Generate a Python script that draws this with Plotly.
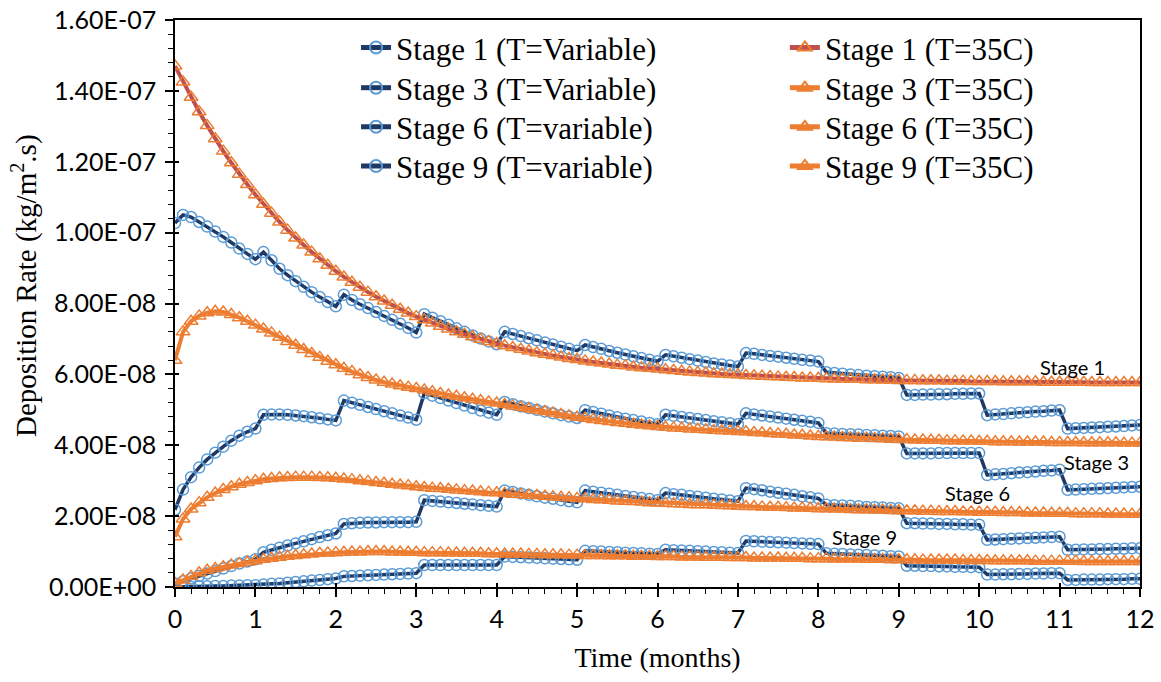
import plotly.graph_objects as go

# time in months (sample every 0.1 month)
T = [0.0, 0.1, 0.2, 0.3, 0.4, 0.5, 0.6, 0.7, 0.8, 0.9, 1.0,
     1.1, 1.2, 1.3, 1.4, 1.5, 1.6, 1.7, 1.8, 1.9, 2.0,
     2.1, 2.2, 2.3, 2.4, 2.5, 2.6, 2.7, 2.8, 2.9, 3.0,
     3.1, 3.2, 3.3, 3.4, 3.5, 3.6, 3.7, 3.8, 3.9, 4.0,
     4.1, 4.2, 4.3, 4.4, 4.5, 4.6, 4.7, 4.8, 4.9, 5.0,
     5.1, 5.2, 5.3, 5.4, 5.5, 5.6, 5.7, 5.8, 5.9, 6.0,
     6.1, 6.2, 6.3, 6.4, 6.5, 6.6, 6.7, 6.8, 6.9, 7.0,
     7.1, 7.2, 7.3, 7.4, 7.5, 7.6, 7.7, 7.8, 7.9, 8.0,
     8.1, 8.2, 8.3, 8.4, 8.5, 8.6, 8.7, 8.8, 8.9, 9.0,
     9.1, 9.2, 9.3, 9.4, 9.5, 9.6, 9.7, 9.8, 9.9, 10.0,
     10.1, 10.2, 10.3, 10.4, 10.5, 10.6, 10.7, 10.8, 10.9, 11.0,
     11.1, 11.2, 11.3, 11.4, 11.5, 11.6, 11.7, 11.8, 11.9, 12.0]

# deposition rates in units of 1e-8 kg/m2.s
stage1_var = [10.27,
    10.50, 10.44, 10.30, 10.17, 10.03, 9.88, 9.72, 9.55, 9.40, 9.25,
    9.45, 9.22, 8.98, 8.80, 8.63, 8.47, 8.32, 8.18, 8.04, 7.92,
    8.25, 8.10, 7.98, 7.87, 7.76, 7.65, 7.54, 7.43, 7.31, 7.18,
    7.70, 7.60, 7.50, 7.40, 7.30, 7.20, 7.10, 7.01, 6.93, 6.85,
    7.20, 7.14, 7.08, 7.02, 6.96, 6.90, 6.84, 6.78, 6.72, 6.67,
    6.83, 6.77, 6.72, 6.66, 6.61, 6.56, 6.51, 6.46, 6.41, 6.37,
    6.55, 6.51, 6.47, 6.43, 6.39, 6.35, 6.31, 6.28, 6.25, 6.22,
    6.60, 6.58, 6.55, 6.52, 6.50, 6.47, 6.44, 6.41, 6.39, 6.36,
    6.06, 6.04, 6.02, 6.00, 5.98, 5.96, 5.95, 5.93, 5.92, 5.90,
    5.42, 5.42, 5.43, 5.43, 5.44, 5.44, 5.45, 5.45, 5.46, 5.46,
    4.85, 4.87, 4.88, 4.90, 4.92, 4.93, 4.95, 4.96, 4.98, 4.99,
    4.47, 4.48, 4.49, 4.50, 4.51, 4.52, 4.53, 4.54, 4.56, 4.57]

stage3_var = [2.18,
    2.75, 3.10, 3.37, 3.60, 3.79, 3.96, 4.13, 4.27, 4.38, 4.47,
    4.86, 4.87, 4.87, 4.86, 4.84, 4.82, 4.79, 4.76, 4.73, 4.70,
    5.26, 5.20, 5.14, 5.08, 5.02, 4.96, 4.90, 4.84, 4.78, 4.72,
    5.47, 5.40, 5.33, 5.26, 5.19, 5.12, 5.05, 4.98, 4.92, 4.86,
    5.22, 5.16, 5.10, 5.05, 5.00, 4.95, 4.90, 4.85, 4.81, 4.77,
    4.99, 4.94, 4.89, 4.84, 4.79, 4.75, 4.71, 4.67, 4.63, 4.59,
    4.86, 4.83, 4.80, 4.77, 4.74, 4.71, 4.68, 4.65, 4.62, 4.59,
    4.90, 4.87, 4.84, 4.81, 4.78, 4.75, 4.72, 4.69, 4.66, 4.63,
    4.34, 4.33, 4.32, 4.31, 4.30, 4.29, 4.28, 4.27, 4.26, 4.25,
    3.77, 3.77, 3.77, 3.77, 3.78, 3.78, 3.78, 3.78, 3.78, 3.78,
    3.16, 3.18, 3.19, 3.21, 3.23, 3.24, 3.26, 3.28, 3.29, 3.31,
    2.74, 2.75, 2.76, 2.77, 2.78, 2.79, 2.80, 2.81, 2.82, 2.83]

stage6_var = [0.10,
    0.16, 0.24, 0.31, 0.38, 0.45, 0.52, 0.59, 0.66, 0.72, 0.78,
    0.98, 1.05, 1.11, 1.17, 1.23, 1.29, 1.35, 1.41, 1.46, 1.51,
    1.78, 1.80, 1.81, 1.82, 1.82, 1.83, 1.83, 1.83, 1.83, 1.84,
    2.45, 2.43, 2.41, 2.39, 2.37, 2.35, 2.33, 2.31, 2.29, 2.27,
    2.72, 2.68, 2.64, 2.60, 2.56, 2.52, 2.49, 2.45, 2.42, 2.39,
    2.72, 2.69, 2.66, 2.63, 2.60, 2.57, 2.54, 2.51, 2.48, 2.45,
    2.65, 2.62, 2.60, 2.57, 2.55, 2.52, 2.49, 2.47, 2.44, 2.42,
    2.79, 2.76, 2.73, 2.69, 2.66, 2.63, 2.60, 2.56, 2.53, 2.50,
    2.32, 2.31, 2.30, 2.29, 2.28, 2.26, 2.25, 2.24, 2.23, 2.22,
    1.80, 1.80, 1.79, 1.79, 1.78, 1.78, 1.77, 1.77, 1.76, 1.76,
    1.33, 1.34, 1.35, 1.36, 1.37, 1.38, 1.39, 1.40, 1.41, 1.42,
    1.05, 1.05, 1.06, 1.06, 1.07, 1.07, 1.08, 1.08, 1.09, 1.09]

stage9_var = [0.00,
    0.01, 0.01, 0.02, 0.02, 0.03, 0.03, 0.04, 0.04, 0.05, 0.05,
    0.07, 0.09, 0.10, 0.12, 0.14, 0.16, 0.18, 0.20, 0.22, 0.24,
    0.30, 0.31, 0.32, 0.33, 0.34, 0.35, 0.36, 0.37, 0.38, 0.39,
    0.62, 0.62, 0.62, 0.62, 0.62, 0.62, 0.62, 0.62, 0.62, 0.62,
    0.86, 0.85, 0.84, 0.83, 0.82, 0.81, 0.80, 0.79, 0.78, 0.77,
    1.02, 1.01, 1.00, 0.99, 0.98, 0.97, 0.96, 0.95, 0.94, 0.93,
    1.05, 1.04, 1.03, 1.02, 1.01, 1.00, 0.99, 0.98, 0.97, 0.96,
    1.30, 1.29, 1.28, 1.27, 1.26, 1.25, 1.24, 1.23, 1.22, 1.21,
    0.95, 0.94, 0.93, 0.92, 0.91, 0.90, 0.89, 0.88, 0.87, 0.86,
    0.60, 0.60, 0.59, 0.59, 0.58, 0.58, 0.57, 0.57, 0.56, 0.56,
    0.35, 0.35, 0.36, 0.36, 0.37, 0.37, 0.38, 0.38, 0.39, 0.39,
    0.20, 0.20, 0.21, 0.21, 0.21, 0.22, 0.22, 0.22, 0.23, 0.23]

stage1_35 = [14.70,
    14.25, 13.82, 13.41, 13.02, 12.65, 12.30, 11.97, 11.65, 11.36, 11.07,
    10.80, 10.55, 10.30, 10.07, 9.85, 9.65, 9.45, 9.26, 9.08, 8.91,
    8.75, 8.60, 8.46, 8.32, 8.19, 8.07, 7.95, 7.84, 7.73, 7.63,
    7.54, 7.45, 7.36, 7.28, 7.20, 7.13, 7.06, 6.99, 6.93, 6.87,
    6.81, 6.76, 6.71, 6.66, 6.61, 6.57, 6.53, 6.49, 6.45, 6.42,
    6.38, 6.35, 6.32, 6.29, 6.26, 6.24, 6.21, 6.19, 6.17, 6.15,
    6.13, 6.11, 6.09, 6.07, 6.05, 6.04, 6.02, 6.01, 6.00, 5.99,
    5.97, 5.96, 5.95, 5.94, 5.93, 5.92, 5.91, 5.90, 5.90, 5.89,
    5.88, 5.87, 5.87, 5.86, 5.86, 5.85, 5.85, 5.84, 5.84, 5.83,
    5.83, 5.83, 5.82, 5.82, 5.82, 5.81, 5.81, 5.81, 5.80, 5.80,
    5.80, 5.80, 5.79, 5.79, 5.79, 5.79, 5.79, 5.78, 5.78, 5.78,
    5.78, 5.78, 5.78, 5.77, 5.77, 5.77, 5.77, 5.77, 5.77, 5.77]

stage3_35 = [6.40,
    7.20, 7.50, 7.65, 7.74, 7.78, 7.76, 7.69, 7.60, 7.50, 7.39,
    7.28, 7.17, 7.05, 6.93, 6.82, 6.70, 6.59, 6.48, 6.37, 6.27,
    6.17, 6.08, 5.99, 5.91, 5.84, 5.78, 5.73, 5.68, 5.64, 5.60,
    5.56, 5.51, 5.46, 5.42, 5.38, 5.34, 5.30, 5.26, 5.22, 5.19,
    5.15, 5.11, 5.07, 5.03, 4.99, 4.95, 4.91, 4.87, 4.83, 4.79,
    4.76, 4.73, 4.70, 4.67, 4.64, 4.62, 4.59, 4.57, 4.55, 4.53,
    4.51, 4.49, 4.48, 4.46, 4.45, 4.44, 4.42, 4.41, 4.40, 4.39,
    4.38, 4.36, 4.35, 4.33, 4.32, 4.31, 4.29, 4.28, 4.26, 4.25,
    4.24, 4.23, 4.22, 4.21, 4.20, 4.20, 4.19, 4.18, 4.17, 4.16,
    4.16, 4.15, 4.15, 4.14, 4.14, 4.13, 4.13, 4.12, 4.12, 4.11,
    4.11, 4.10, 4.10, 4.10, 4.09, 4.09, 4.09, 4.09, 4.08, 4.08,
    4.08, 4.08, 4.07, 4.07, 4.07, 4.07, 4.07, 4.06, 4.06, 4.06]

stage6_35 = [1.42,
    1.92, 2.20, 2.38, 2.53, 2.65, 2.75, 2.83, 2.90, 2.95, 3.00,
    3.04, 3.06, 3.08, 3.09, 3.10, 3.10, 3.10, 3.09, 3.08, 3.07,
    3.05, 3.03, 3.00, 2.98, 2.95, 2.93, 2.90, 2.88, 2.86, 2.83,
    2.81, 2.79, 2.78, 2.76, 2.74, 2.72, 2.71, 2.69, 2.67, 2.66,
    2.64, 2.62, 2.61, 2.59, 2.58, 2.56, 2.55, 2.53, 2.52, 2.50,
    2.49, 2.47, 2.46, 2.45, 2.43, 2.42, 2.41, 2.40, 2.38, 2.37,
    2.36, 2.35, 2.34, 2.33, 2.32, 2.32, 2.31, 2.30, 2.29, 2.28,
    2.27, 2.27, 2.26, 2.25, 2.25, 2.24, 2.23, 2.23, 2.22, 2.21,
    2.21, 2.20, 2.20, 2.19, 2.18, 2.18, 2.17, 2.17, 2.16, 2.15,
    2.15, 2.15, 2.14, 2.14, 2.13, 2.13, 2.13, 2.12, 2.12, 2.11,
    2.11, 2.11, 2.10, 2.10, 2.10, 2.09, 2.09, 2.09, 2.08, 2.08,
    2.08, 2.07, 2.07, 2.07, 2.07, 2.06, 2.06, 2.06, 2.05, 2.05]

stage9_35 = [0.10,
    0.20, 0.30, 0.40, 0.47, 0.52, 0.57, 0.62, 0.66, 0.70, 0.74,
    0.78, 0.81, 0.84, 0.87, 0.89, 0.91, 0.93, 0.95, 0.96, 0.97,
    0.98, 0.99, 0.99, 1.00, 1.00, 1.00, 0.99, 0.99, 0.98, 0.98,
    0.97, 0.97, 0.97, 0.96, 0.96, 0.95, 0.95, 0.95, 0.94, 0.94,
    0.93, 0.93, 0.93, 0.92, 0.92, 0.91, 0.91, 0.91, 0.90, 0.90,
    0.89, 0.89, 0.89, 0.88, 0.88, 0.88, 0.87, 0.87, 0.87, 0.86,
    0.86, 0.86, 0.85, 0.85, 0.85, 0.84, 0.84, 0.84, 0.83, 0.83,
    0.83, 0.82, 0.82, 0.82, 0.82, 0.81, 0.81, 0.81, 0.80, 0.80,
    0.80, 0.79, 0.79, 0.79, 0.79, 0.78, 0.78, 0.78, 0.77, 0.77,
    0.77, 0.77, 0.76, 0.76, 0.76, 0.76, 0.76, 0.75, 0.75, 0.75,
    0.75, 0.74, 0.74, 0.74, 0.74, 0.74, 0.73, 0.73, 0.73, 0.73,
    0.73, 0.73, 0.72, 0.72, 0.72, 0.72, 0.72, 0.72, 0.72, 0.72]

UNIT = 1e-8

y_tick_vals = [0, 2e-8, 4e-8, 6e-8, 8e-8, 1.0e-7, 1.2e-7, 1.4e-7, 1.6e-7]
y_tick_text = ["0.00E+00", "2.00E-08", "4.00E-08", "6.00E-08", "8.00E-08",
               "1.00E-07", "1.20E-07", "1.40E-07", "1.60E-07"]

var_names = ["Stage 1 (T=Variable)", "Stage 3 (T=Variable)",
             "Stage 6 (T=variable)", "Stage 9 (T=variable)"]
c35_names = ["Stage 1 (T=35C)", "Stage 3 (T=35C)",
             "Stage 6 (T=35C)", "Stage 9 (T=35C)"]
var_series = [stage1_var, stage3_var, stage6_var, stage9_var]
c35_series = [stage1_35, stage3_35, stage6_35, stage9_35]
c35_line_colors = ["#C0504D", "#ED7D31", "#ED7D31", "#ED7D31"]

label_text = ["Stage 1", "Stage 3", "Stage 6", "Stage 9"]
label_x = [11.16, 11.46, 9.98, 8.58]
label_y = [6.2, 3.54, 2.66, 1.40]

NAVY = "#1F3864"
LIGHTBLUE = "#5B9BD5"
ORANGE = "#ED7D31"

# legend layout: one legend per entry (rows x 2 columns), paper coords
legend_row_y = [0.951, 0.880, 0.811, 0.742]
legend_col_x = [0.1876, 0.632]

fig = go.Figure()
for i, (vname, vs, cname, cs, lc) in enumerate(zip(
        var_names, var_series, c35_names, c35_series, c35_line_colors)):
    fig.add_trace(go.Scatter(
        x=T, y=[v * UNIT for v in vs], name=vname, mode="lines+markers",
        line=dict(color=NAVY, width=3.5),
        marker=dict(symbol="circle-open", size=11, color=LIGHTBLUE,
                    line=dict(width=1.5, color=LIGHTBLUE)),
        legend="legend" if i == 0 else f"legend{i + 1}"))
    fig.add_trace(go.Scatter(
        x=T, y=[v * UNIT for v in cs], name=cname, mode="lines+markers",
        line=dict(color=lc, width=4),
        marker=dict(symbol="triangle-up-open", size=12, color=ORANGE,
                    line=dict(width=1.5, color=ORANGE)),
        legend=f"legend{i + 5}"))

# helper trace so the overlay axes (inner half of the crossing ticks) render
fig.add_trace(go.Scatter(x=[None], y=[None], xaxis="x2", yaxis="y2",
                         showlegend=False, hoverinfo="skip"))

for txt, lx, ly in zip(label_text, label_x, label_y):
    fig.add_annotation(x=lx, y=ly * UNIT, text=txt, showarrow=False,
                       xanchor="center", yanchor="middle",
                       font=dict(family="Lato", size=20, color="black"))

serif = "Liberation Serif"

# y-axis title placed as rotated text
fig.add_annotation(xref="paper", yref="paper", x=-0.1554, y=0.531,
                   text="Deposition Rate (kg/m<sup>2</sup>.s)",
                   textangle=-90, showarrow=False,
                   xanchor="center", yanchor="middle",
                   font=dict(family=serif, size=29, color="black"))

legend_common = dict(bgcolor="rgba(0,0,0,0)", borderwidth=0,
                     font=dict(family=serif, size=31, color="black"),
                     yanchor="middle", xanchor="left", itemsizing="constant")

legends = {}
for i in range(8):
    key = "legend" if i == 0 else f"legend{i + 1}"
    col = 0 if i < 4 else 1
    row = i % 4
    legends[key] = dict(x=legend_col_x[col], y=legend_row_y[row],
                        **legend_common)

fig.update_layout(
    width=1161, height=682,
    margin=dict(l=175, r=21, t=20, b=95),
    paper_bgcolor="white", plot_bgcolor="white",
    showlegend=True,
    **legends,
    xaxis=dict(
        range=[0, 12], dtick=1, tick0=0, showgrid=False, zeroline=False,
        automargin=False,
        showline=True, linecolor="black", linewidth=1.5, mirror=True,
        ticks="outside", ticklen=8, tickwidth=1.5, tickcolor="black",
        minor=dict(dtick=0.2, ticks="outside", ticklen=5, tickwidth=1,
                   tickcolor="black", showgrid=False),
        tickfont=dict(family="Lato", size=25, color="black"),
        ticklabelstandoff=1, ticklabeloverflow="allow",
        title=dict(text="Time (months)", standoff=16,
                   font=dict(family=serif, size=28, color="black")),
    ),
    yaxis=dict(
        range=[0, 1.6e-7], tickvals=y_tick_vals, ticktext=y_tick_text,
        showgrid=False, zeroline=False, automargin=False,
        showline=True, linecolor="black", linewidth=1.5, mirror=True,
        ticks="outside", ticklen=8, tickwidth=1.5, tickcolor="black",
        minor=dict(dtick=4e-9, tick0=0, ticks="outside", ticklen=5,
                   tickwidth=1, tickcolor="black", showgrid=False),
        tickfont=dict(family="Lato", size=25, color="black"),
        ticklabelstandoff=4, ticklabeloverflow="allow",
    ),
    xaxis2=dict(
        overlaying="x", anchor="y2", side="bottom", range=[0, 12], dtick=1,
        tick0=0, showgrid=False, zeroline=False, showline=False,
        automargin=False, showticklabels=False,
        ticks="inside", ticklen=4, tickwidth=1.5, tickcolor="black"),
    yaxis2=dict(
        overlaying="y", anchor="x2", side="left", range=[0, 1.6e-7],
        tickvals=y_tick_vals, showgrid=False, zeroline=False,
        showline=False, automargin=False, showticklabels=False,
        ticks="inside", ticklen=4, tickwidth=1.5, tickcolor="black"),
)

# remove the default page margin so the figure fills the window exactly
fig.write_html("out.html",
               config={"displayModeBar": False},
               post_script="document.body.style.margin='0px';"
                           "document.body.style.overflow='hidden';")
